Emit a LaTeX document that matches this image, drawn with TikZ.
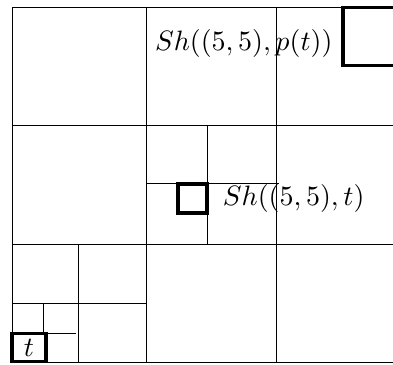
\documentclass[tikz,border=0pt]{standalone}
\usetikzlibrary{positioning}
\tikzset{
	gridline/.style={line width=0.3pt, black},
	cellmark/.style={draw, line width=1.3pt, inner sep=0pt},
	shiftlabel/.style={inner sep=3.33pt},
}

\begin{document}
\begin{tikzpicture}[x=0.357pt, y=-0.357pt]
		
		\useasboundingbox (0,0) rectangle (393,364);
		\clip (0,0) rectangle (393,364);
		
		% =============== MAIN GRID ===============
		\draw[gridline] (12,7) -- (12,362);
		\draw[gridline] (146,7) -- (146,362);
		\draw[gridline] (276,7) -- (276,362);
		\draw[gridline] (12,7) -- (400,7);
		\draw[gridline] (12,125) -- (400,125);
		\draw[gridline] (12,244) -- (400,244);
		\draw[gridline] (12,362) -- (400,362);
		
		% =============== SUBDIVIDED CELLS ===============
		\draw[gridline] (207,125) -- (207,244);
		\draw[gridline] (146,183) -- (279,183);
		
		\draw[gridline] (78,244) -- (78,362);
		\draw[gridline] (12,303) -- (146,303);
		
		\draw[gridline] (43,303) -- (43,333);
		\draw[gridline] (43,333) -- (76,333);
		
		% =============== MARKED CELLS ===============
		\node[cellmark, minimum width=20.7pt, minimum height=20.7pt] (topsq) at (372,36.5) {};
		\node[cellmark, minimum width=10.4pt, minimum height=10.4pt] (midsq) at (192.5,198.5) {};
		\node[cellmark, minimum width=12.1pt, minimum height=10.1pt] (tsq) at (29,347.5) {$t$};
		
		% =============== LABELS ===============
		\node[shiftlabel, anchor=east] (toplab) at (342.3,43) {$Sh((5,5),p(t))$};
		\node[shiftlabel, anchor=west] (midlab) at (213,198) {$Sh((5,5),t)$};
		
	\end{tikzpicture}
\end{document}
